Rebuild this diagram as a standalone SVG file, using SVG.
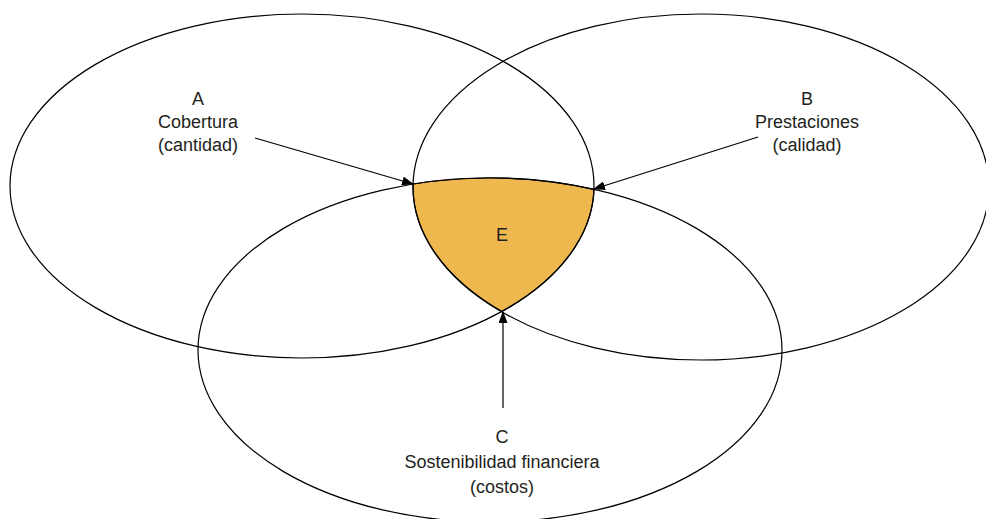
<svg xmlns="http://www.w3.org/2000/svg" width="986" height="519" viewBox="0 0 986 519">
  <style>
    .ring { fill: none; stroke: #000; stroke-width: 1.2; }
    .lbl { font-family: "Liberation Sans", Arial, sans-serif; font-size: 18px; fill: #231f20; text-anchor: middle; }
    .conn { stroke: #000; stroke-width: 1.2; fill: none; marker-end: url(#arrow); }
  </style>
  <defs>
    <marker id="arrow" markerUnits="userSpaceOnUse" markerWidth="12" markerHeight="9" refX="11" refY="4.5" orient="auto">
      <path d="M0,0 L12,4.5 L0,9 Z" fill="#000"/>
    </marker>
  </defs>
  <rect width="986" height="519" fill="#fff"/>
  <g id="E">
    <path d="M413,184 A292,172 0 0 1 594,189.3 A292,172 0 0 1 502,311.5 A288,173 0 0 1 413,184 Z" fill="#efb84f" stroke="#000" stroke-width="1.2"/>
    <text class="lbl" x="502" y="241">E</text>
  </g>
  <g id="A">
    <ellipse class="ring" cx="302" cy="186" rx="292" ry="172"/>
    <text class="lbl" x="198" y="105">A</text>
    <text class="lbl" x="198" y="128">Cobertura</text>
    <text class="lbl" x="198" y="151">(cantidad)</text>
  </g>
  <g id="B">
    <ellipse class="ring" cx="701" cy="187" rx="288" ry="173"/>
    <text class="lbl" x="807" y="105">B</text>
    <text class="lbl" x="807" y="128">Prestaciones</text>
    <text class="lbl" x="807" y="151">(calidad)</text>
  </g>
  <g id="C">
    <ellipse class="ring" cx="490" cy="350" rx="292" ry="172"/>
    <text class="lbl" x="502" y="443">C</text>
    <text class="lbl" x="502" y="468">Sostenibilidad financiera</text>
    <text class="lbl" x="502" y="493">(costos)</text>
  </g>
  <g id="connectors">
    <line class="conn" x1="255" y1="138" x2="413" y2="184"/>
    <line class="conn" x1="758" y1="137" x2="594" y2="189"/>
    <line class="conn" x1="503" y1="408" x2="503" y2="312"/>
  </g>
</svg>
